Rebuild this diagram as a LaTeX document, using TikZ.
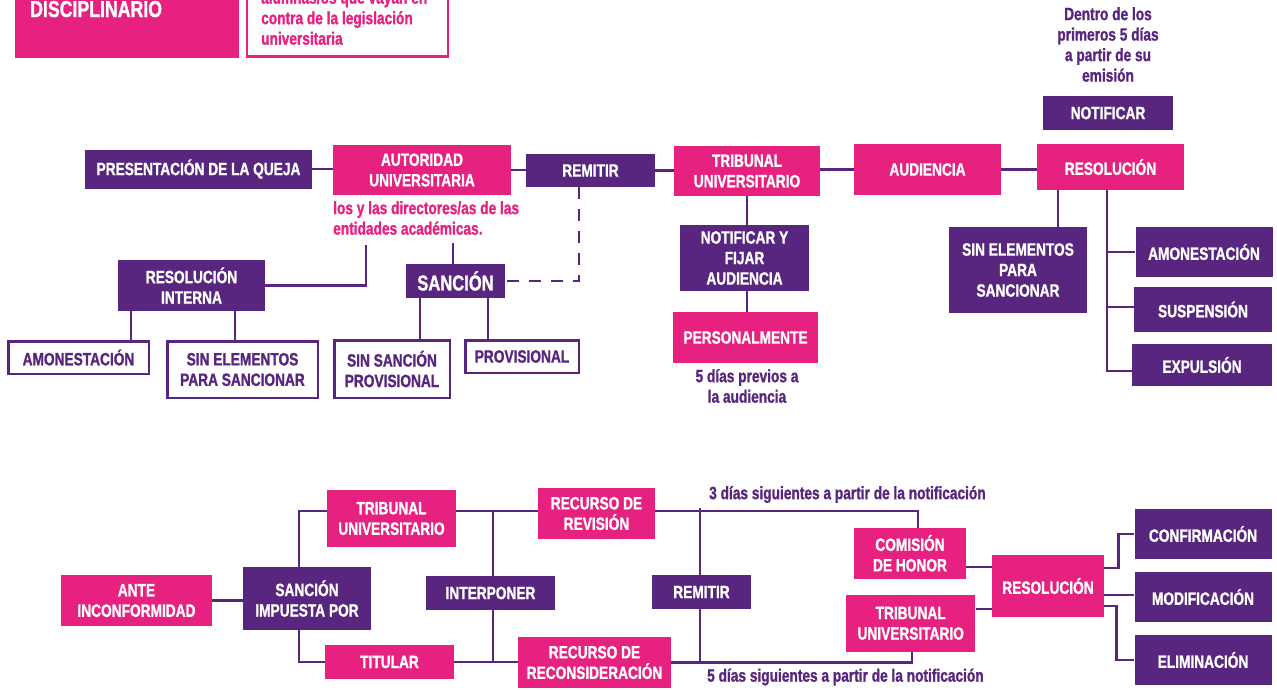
\documentclass[tikz,border=0pt]{standalone}
\usepackage{fontspec}
\setmainfont{Liberation Sans}[FakeStretch=0.77, BoldFeatures={FakeBold=1.2}]
\usetikzlibrary{backgrounds}
\definecolor{upurple}{HTML}{58267E}
\definecolor{upink}{HTML}{E6217F}
\newcommand\bxfont{\fontsize{17.8}{20.5}\selectfont\bfseries}
\newcommand\bigbxfont{\fontsize{21.5}{24}\selectfont\bfseries}
\newcommand\titfont{\fontsize{23}{26}\selectfont\bfseries}
\tikzset{
  pbox/.style={fill=upurple, text=white, font=\bxfont, align=center, inner sep=0pt},
  kbox/.style={fill=upink, text=white, font=\bxfont, align=center, inner sep=0pt},
  obox/.style={draw=upurple, line width=2.5pt, fill=white, text=upurple, font=\bxfont, align=center, inner sep=0pt},
  conn/.style={draw=upurple, line width=2.6pt},
  dconn/.style={conn, dash pattern=on 12pt off 10pt},
  note/.style={text=upurple, font=\bxfont, align=center, inner sep=0pt},
  pnote/.style={text=upink, font=\bxfont, align=left, inner sep=0pt},
}
\begin{document}
\begin{tikzpicture}[x=1pt,y=-1pt]
\useasboundingbox (0,0) rectangle (1277,689);
% header
\node[kbox, minimum width=224pt, minimum height=140pt, anchor=south west] (disc) at (15,58.5) {};
\node[text=white, font=\titfont, anchor=base west, inner sep=0pt] (disctitle) at (30,17) {DISCIPLINARIO};
\node[draw=upink, line width=2.5pt, minimum width=201pt, minimum height=140pt, anchor=south west] (legbox) at (245.5,57.8) {};
\node[pnote, anchor=west] (legtxt) at (261,17.8) {alumnas/os que vayan en\\contra de la legislación\\universitaria};
% row 1
\node[pbox, minimum width=227pt, minimum height=39pt] (queja) at (198.5,169) {PRESENTACIÓN DE LA QUEJA};
\node[kbox, minimum width=178pt, minimum height=50pt] (autoridad) at (422,170) {AUTORIDAD\\UNIVERSITARIA};
\node[pbox, minimum width=129pt, minimum height=33pt] (remitirA) at (590.5,170.5) {REMITIR};
\node[kbox, minimum width=146pt, minimum height=50pt] (tribA) at (747,171) {TRIBUNAL\\UNIVERSITARIO};
\node[kbox, minimum width=147pt, minimum height=51pt] (audiencia) at (927.5,169.5) {AUDIENCIA};
\node[kbox, minimum width=147pt, minimum height=46pt] (resolA) at (1110.5,167) {RESOLUCIÓN};
\node[pbox, minimum width=130pt, minimum height=34pt] (notificar) at (1108,113) {NOTIFICAR};
\node[note] (plazo) at (1108,44.5) {Dentro de los\\primeros 5 días\\a partir de su\\emisión};
\node[pnote, anchor=west] (entidades) at (333,218) {los y las directores/as de las\\entidades académicas.};
\coordinate (e1) at (366,245);
\coordinate (e2) at (453,243);
% left branch
\node[pbox, font=\bigbxfont, minimum width=99pt, minimum height=34pt] (sancion) at (455.5,281) {SANCIÓN};
\node[pbox, minimum width=147pt, minimum height=51pt] (resint) at (191.5,285.5) {RESOLUCIÓN\\INTERNA};
\node[obox, minimum width=140.5pt, minimum height=32.5pt] (amonA) at (78.5,357.5) {AMONESTACIÓN};
\node[obox, minimum width=150.5pt, minimum height=56.5pt] (sinelA) at (242.5,369.5) {SIN ELEMENTOS\\PARA SANCIONAR};
\node[obox, minimum width=115.5pt, minimum height=57.5pt] (sinsan) at (392,369) {SIN SANCIÓN\\PROVISIONAL};
\node[obox, minimum width=113.5pt, minimum height=32.5pt] (prov) at (522,356.5) {PROVISIONAL};
% middle branch
\node[pbox, minimum width=129pt, minimum height=66pt] (notifj) at (744.5,258) {NOTIFICAR Y\\FIJAR\\AUDIENCIA};
\node[kbox, minimum width=145pt, minimum height=51pt] (pers) at (745.5,337.5) {PERSONALMENTE};
\node[note] (previos) at (747,386) {5 días previos a\\la audiencia};
% right branch
\node[pbox, minimum width=138pt, minimum height=86pt] (sinelB) at (1018,270) {SIN ELEMENTOS\\PARA\\SANCIONAR};
\node[pbox, minimum width=137pt, minimum height=50pt] (amonB) at (1204,252) {AMONESTACIÓN};
\node[pbox, minimum width=138pt, minimum height=45pt] (susp) at (1203,309.5) {SUSPENSIÓN};
\node[pbox, minimum width=140pt, minimum height=42pt] (expul) at (1202,365) {EXPULSIÓN};
% bottom section
\node[kbox, minimum width=151pt, minimum height=51pt] (ante) at (136.5,600.5) {ANTE\\INCONFORMIDAD};
\node[pbox, minimum width=128pt, minimum height=63pt] (sancimp) at (307,598.5) {SANCIÓN\\IMPUESTA POR};
\node[kbox, minimum width=129pt, minimum height=57pt] (tribB) at (391.5,518.5) {TRIBUNAL\\UNIVERSITARIO};
\node[kbox, minimum width=129pt, minimum height=34pt] (titular) at (389.5,662) {TITULAR};
\node[kbox, minimum width=117pt, minimum height=51pt] (recrev) at (596.5,513.5) {RECURSO DE\\REVISIÓN};
\node[kbox, minimum width=153pt, minimum height=51pt] (recrec) at (594.5,662.5) {RECURSO DE\\RECONSIDERACIÓN};
\node[pbox, minimum width=129pt, minimum height=34pt] (interp) at (490.5,593) {INTERPONER};
\node[pbox, minimum width=99pt, minimum height=34pt] (remitirB) at (701.5,592) {REMITIR};
\node[kbox, minimum width=112pt, minimum height=51pt] (comision) at (910,553.3) {COMISIÓN\\DE HONOR};
\node[kbox, minimum width=129.5pt, minimum height=57pt] (tribC) at (910.7,623.3) {TRIBUNAL\\UNIVERSITARIO};
\node[kbox, minimum width=112pt, minimum height=62pt] (resolB) at (1048,586) {RESOLUCIÓN};
\node[pbox, minimum width=137pt, minimum height=50pt] (confirm) at (1203,534) {CONFIRMACIÓN};
\node[pbox, minimum width=137pt, minimum height=50pt] (modif) at (1203,597) {MODIFICACIÓN};
\node[pbox, minimum width=137pt, minimum height=50pt] (elim) at (1203,660) {ELIMINACIÓN};
\node[note, anchor=west] (tres) at (709,494.5) {3 días siguientes a partir de la notificación};
\node[note, anchor=west] (cinco) at (707,677) {5 días siguientes a partir de la notificación};
% connectors
\begin{scope}[on background layer]
\draw[conn] (queja.east) -- (queja.east -| autoridad.west);
\draw[conn] (autoridad.east) -- (autoridad.east -| remitirA.west);
\draw[conn] (remitirA.east) -- (remitirA.east -| tribA.west);
\draw[conn] (audiencia.west) -- (audiencia.west -| tribA.east);
\draw[conn] (audiencia.east) -- (audiencia.east -| resolA.west);
\draw[conn] (e1) |- (resint.east);
\draw[conn] (e2) -- (e2 |- sancion.north);
\draw[dconn] ([xshift=-11.5pt]remitirA.south) |- (sancion.east);
\draw[conn] ([xshift=-60.5pt]resint.south) -- ++(0,55);
\draw[conn] ([xshift=43.5pt]resint.south) -- ++(0,30);
\draw[conn] ([xshift=-35.5pt]sancion.south) -- ++(0,41);
\draw[conn] ([xshift=32.5pt]sancion.south) -- ++(0,41);
\draw[conn] (tribA.south) -- (tribA.south |- notifj.north);
\draw[conn] (tribA.south |- notifj.south) -- (tribA.south |- pers.north);
\draw[conn] ([xshift=-52.5pt]resolA.south) -- ++(0,38);
\draw[conn] ([xshift=-3.5pt]resolA.south) |- (amonB.west);
\draw[conn] ([xshift=-3.5pt]resolA.south) |- ([yshift=2.5pt]susp.west);
\draw[conn] ([xshift=-3.5pt]resolA.south) |- ([yshift=-6pt]expul.west);
% bottom
\draw[conn] (ante.east) -- (ante.east -| sancimp.west);
\draw[conn] ([xshift=-8pt]sancimp.north) |- ([yshift=7.5pt]tribB.west);
\draw[conn] ([xshift=-8pt]sancimp.south) |- (titular.west);
\draw[conn] ([yshift=7.5pt]tribB.east) -- ([yshift=2.5pt]recrev.west);
\draw[conn] (titular.east) -- (titular.east -| recrec.west);
\draw[conn] ([xshift=2.5pt]interp.north) -- ++(0,-65);
\draw[conn] ([xshift=2.5pt]interp.south) -- ++(0,52);
\draw[conn] ([xshift=-1.5pt]remitirB.north) -- ++(0,-67);
\draw[conn] ([xshift=-1.5pt]remitirB.south) -- ++(0,53);
\draw[conn] ([yshift=2.5pt]recrev.east) -| ([xshift=8pt]comision.north);
\draw[conn] (recrec.east) -| ([xshift=1.3pt]tribC.south);
\draw[conn] ([yshift=-13.7pt]comision.east) -- ++(26,0);
\draw[conn] ([yshift=14.3pt]tribC.east) -- ++(16.5,0);
\draw[conn] ([yshift=18pt]resolB.east) -- ++(14,0) |- (confirm.west);
\draw[conn] ([yshift=-9pt]resolB.east) -- ([yshift=2pt]modif.west);
\draw[conn] ([yshift=-20pt]resolB.east) -- ++(12,0) |- (elim.west);
\end{scope}
\end{tikzpicture}
\end{document}
